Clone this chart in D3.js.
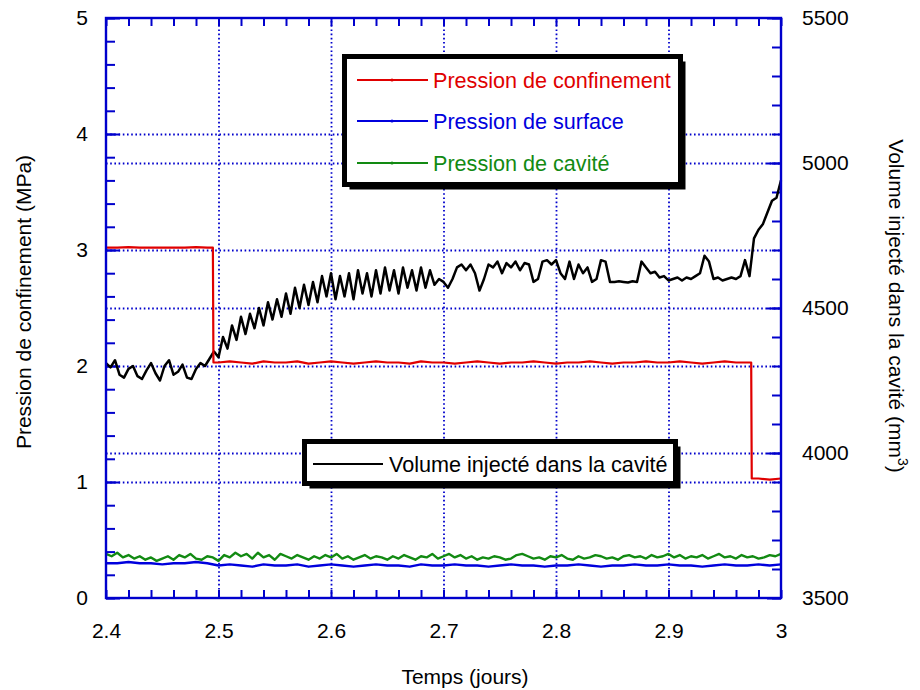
<!DOCTYPE html>
<html><head><meta charset="utf-8">
<script src="https://cdn.jsdelivr.net/npm/d3@7"></script>
<style>body{margin:0;background:#fff} svg{display:block} text{font-family:"Liberation Sans",Arial,Helvetica,sans-serif}</style>
</head><body><svg id="c" width="920" height="690"></svg>
<script>
// ---------- DATA ----------
const xLabels = [2.4, 2.5, 2.6, 2.7, 2.8, 2.9, 3.0];
const pLabels = [0, 1, 2, 3, 4, 5];
const vLabels = [3500, 4000, 4500, 5000, 5500];

// Volume injecté (mm3), sampled every 0.004 day from 2.4
const volStart = 2.4, volStep = 0.004;
const volume = [
 4310,4295,4320,4270,4260,4290,4300,4265,4255,4285,4310,4275,4250,4300,4320,4270,4280,4305,4260,4255,4290,4310,4300,4325,
 4350,
 4330,4400,4360,4440,4390,4470,4410,4480,4430,4500,
 4440,4520,4460,4530,4470,4550,4480,4570,4500,4580,
 4510,4590,4520,4610,4540,4620,4530,4610,4540,4620,
 4530,4630,4550,4620,4540,4630,4550,4640,4560,4630,
 4550,4640,4570,4630,4560,4640,4570,4630,4580,4600,
 4590,4570,4600,4640,4650,4630,4650,4620,4560,4600,
 4650,4640,4660,4620,4655,4640,4660,4630,4655,4650,
 4590,4600,4660,4665,4650,4665,4620,4600,4660,4600,
 4650,4620,4640,4590,4600,4665,4660,4590,4590,4592,
 4590,4588,4592,4590,4660,4640,4620,4625,4605,4610,
 4595,4600,4605,4595,4605,4600,4610,4620,4680,4660,
 4600,4605,4595,4600,4605,4600,4610,4665,4610,4740,
 4770,4790,4830,4870,4880,4940
];

// Pression de confinement (MPa)
const confTimes = [2.40,2.41,2.42,2.43,2.44,2.45,2.46,2.47,2.48,2.49,2.495,2.4955,
 2.50,2.51,2.52,2.53,2.54,2.55,2.56,2.57,2.58,2.59,
 2.60,2.61,2.62,2.63,2.64,2.65,2.66,2.67,2.68,2.69,
 2.70,2.71,2.72,2.73,2.74,2.75,2.76,2.77,2.78,2.79,
 2.80,2.81,2.82,2.83,2.84,2.85,2.86,2.87,2.88,2.89,
 2.90,2.91,2.92,2.93,2.94,2.95,2.96,2.97,2.9735,2.974,2.98,2.99,3.00];
const confValues = [3.02,3.02,3.025,3.02,3.02,3.02,3.02,3.02,3.025,3.02,3.02,2.03,
 2.03,2.04,2.03,2.02,2.04,2.03,2.03,2.04,2.02,2.03,
 2.04,2.03,2.02,2.03,2.04,2.03,2.03,2.02,2.04,2.03,
 2.03,2.02,2.03,2.04,2.03,2.02,2.03,2.03,2.04,2.03,
 2.02,2.03,2.03,2.04,2.03,2.02,2.03,2.03,2.04,2.03,
 2.03,2.04,2.03,2.02,2.03,2.04,2.03,2.03,2.03,1.03,1.03,1.02,1.03];

// Pression de surface (MPa), every 0.01 day from 2.4
const surfStart = 2.4, surfStep = 0.01;
const surface = [
 0.30,0.30,0.31,0.30,0.30,0.29,0.30,0.30,0.31,0.30,
 0.28,0.29,0.28,0.27,0.29,0.28,0.28,0.29,0.27,0.28,
 0.29,0.28,0.27,0.28,0.29,0.28,0.28,0.27,0.29,0.28,
 0.28,0.29,0.28,0.28,0.27,0.28,0.29,0.28,0.28,0.27,
 0.28,0.28,0.29,0.28,0.27,0.28,0.28,0.29,0.28,0.28,
 0.29,0.28,0.28,0.27,0.28,0.29,0.28,0.28,0.29,0.28,
 0.29
];

// Pression de cavité (MPa), every 0.005 day from 2.4
const cavStart = 2.4, cavStep = 0.005;
const cavity = [
 0.38,0.36,0.39,0.35,0.37,0.34,0.36,0.33,0.35,0.32,0.34,0.36,0.33,0.37,0.35,0.38,0.34,0.33,0.36,0.35,
 0.32,0.37,0.35,0.39,0.36,0.38,0.34,0.39,0.35,0.37,0.33,0.38,0.36,0.34,0.37,0.35,0.33,0.36,0.34,0.37,
 0.35,0.38,0.34,0.36,0.33,0.35,0.37,0.34,0.36,0.35,0.33,0.36,0.34,0.37,0.35,0.33,0.36,0.35,0.38,0.34,
 0.36,0.38,0.35,0.37,0.34,0.36,0.33,0.35,0.34,0.36,0.35,0.33,0.34,0.37,0.38,0.36,0.34,0.35,0.33,0.36,
 0.35,0.37,0.34,0.33,0.36,0.34,0.35,0.37,0.36,0.34,0.35,0.33,0.36,0.37,0.35,0.36,0.34,0.37,0.35,0.36,
 0.38,0.35,0.37,0.34,0.36,0.35,0.37,0.34,0.36,0.38,0.35,0.36,0.34,0.37,0.35,0.36,0.34,0.35,0.37,0.36,0.38
];

const legendTop = ["Pression de confinement", "Pression de surface", "Pression de cavité"];
const legendTopColors = ["#e00000", "#0000dd", "#128a12"];
const legendBottom = "Volume injecté dans la cavité";

// ---------- CHART ----------
const svg = d3.select('#c');
const L = 106, R = 781, T = 18, B = 598;
const AX = '#0000cc';
const FS = 21;
const x = d3.scaleLinear().domain([2.4, 3.0]).range([L, R]);
const yP = d3.scaleLinear().domain([0, 5]).range([B, T]);
const yV = d3.scaleLinear().domain([3500, 5500]).range([B, T]);

function styleAxis(g) {
  g.select('.domain').remove();
  g.selectAll('line').attr('stroke', AX).attr('stroke-width', 2);
  g.selectAll('text').attr('font-size', FS).attr('fill', '#000')
    .attr('font-family', '"Liberation Sans",Arial,sans-serif');
}
function dotted(g) {
  g.select('.domain').remove();
  g.selectAll('line').attr('stroke', AX).attr('stroke-width', 1.8).attr('stroke-dasharray', '1.6,2.6');
}

// grid
svg.append('g').attr('transform', `translate(0,${B})`)
  .call(d3.axisBottom(x).tickValues([2.5, 2.6, 2.7, 2.8, 2.9]).tickSize(-(B - T)).tickFormat('')).call(dotted);
svg.append('g').attr('transform', `translate(${L},0)`)
  .call(d3.axisLeft(yP).tickValues([1, 2, 3, 4]).tickSize(-(R - L)).tickFormat('')).call(dotted);
svg.append('g').attr('transform', `translate(${L},0)`)
  .call(d3.axisLeft(yV).tickValues([4000, 4500, 5000]).tickSize(-(R - L)).tickFormat('')).call(dotted);

// ticks
const xMinor = d3.range(0, 31).map(i => 2.4 + i * 0.02);
svg.append('g').attr('transform', `translate(0,${B})`)
  .call(d3.axisBottom(x).tickValues(xMinor).tickSizeInner(-8).tickSizeOuter(0).tickFormat('')).call(styleAxis);
svg.append('g').attr('transform', `translate(0,${T})`)
  .call(d3.axisTop(x).tickValues(xMinor).tickSizeInner(-8).tickSizeOuter(0).tickFormat('')).call(styleAxis);
svg.append('g').attr('transform', `translate(0,${B})`)
  .call(d3.axisBottom(x).tickValues(xLabels).tickSize(0).tickPadding(25).tickFormat(d3.format('~g'))).call(styleAxis);

const pMinor = d3.range(0, 26).map(i => i * 0.2);
svg.append('g').attr('transform', `translate(${L},0)`)
  .call(d3.axisLeft(yP).tickValues(pMinor).tickSizeInner(-9).tickSizeOuter(0).tickFormat('')).call(styleAxis);
svg.append('g').attr('transform', `translate(${L},0)`)
  .call(d3.axisLeft(yP).tickValues(pLabels).tickSizeInner(-14).tickSizeOuter(0).tickPadding(18)
    .tickFormat(d3.format('d'))).call(styleAxis);

const vMinor = d3.range(0, 21).map(i => 3500 + i * 100);
svg.append('g').attr('transform', `translate(${R},0)`)
  .call(d3.axisRight(yV).tickValues(vMinor).tickSizeInner(-9).tickSizeOuter(0).tickFormat('')).call(styleAxis);
svg.append('g').attr('transform', `translate(${R},0)`)
  .call(d3.axisRight(yV).tickValues(vLabels).tickSizeInner(-14).tickSizeOuter(0).tickPadding(21)
    .tickFormat(d3.format('d'))).call(styleAxis);

// data lines
const lineP = d3.line().x(d => x(d[0])).y(d => yP(d[1]));
const lineV = d3.line().x(d => x(d[0])).y(d => yV(d[1]));
const cavData = cavity.map((v, i) => [cavStart + i * cavStep, v]);
const surfData = surface.map((v, i) => [surfStart + i * surfStep, v]);
const confData = confValues.map((v, i) => [confTimes[i], v]);
const volData = volume.map((v, i) => [volStart + i * volStep, v]);

svg.append('path').datum(cavData).attr('d', lineP).attr('fill', 'none')
  .attr('stroke', '#128a12').attr('stroke-width', 2.4).attr('stroke-linejoin', 'round');
svg.append('path').datum(surfData).attr('d', lineP).attr('fill', 'none')
  .attr('stroke', '#0000dd').attr('stroke-width', 2.4).attr('stroke-linejoin', 'round');
svg.append('path').datum(volData).attr('d', lineV).attr('fill', 'none')
  .attr('stroke', '#000').attr('stroke-width', 2.5).attr('stroke-linejoin', 'round');
svg.append('path').datum(confData).attr('d', lineP).attr('fill', 'none')
  .attr('stroke', '#e00000').attr('stroke-width', 2.2).attr('stroke-linejoin', 'round');

// frame
svg.append('rect').attr('x', L).attr('y', T).attr('width', R - L).attr('height', B - T)
  .attr('fill', 'none').attr('stroke', AX).attr('stroke-width', 2.4);

// axis titles
svg.append('text').attr('x', 465).attr('y', 684).attr('text-anchor', 'middle')
  .attr('font-size', FS).text('Temps (jours)');
svg.append('text').attr('transform', 'translate(31,302) rotate(-90)').attr('text-anchor', 'middle')
  .attr('font-size', FS).text('Pression de confinement (MPa)');
const rt = svg.append('text').attr('transform', 'translate(889,306) rotate(90)').attr('text-anchor', 'middle')
  .attr('font-size', FS);
rt.append('tspan').text('Volume injecté dans la cavité (mm');
rt.append('tspan').attr('font-size', 14).attr('dy', -9).text('3');
rt.append('tspan').attr('dy', 9).text(')');

// legends
function box(x0, y0, w, h) {
  svg.append('rect').attr('x', x0 + 5).attr('y', y0 + 5).attr('width', w).attr('height', h).attr('fill', '#000');
  svg.append('rect').attr('x', x0).attr('y', y0).attr('width', w).attr('height', h)
    .attr('fill', '#fff').attr('stroke', '#000').attr('stroke-width', 5);
}
box(344.5, 56.5, 336, 128);
const rowsY = [80, 121, 163];
legendTop.forEach((t, i) => {
  svg.append('line').attr('x1', 357).attr('x2', 428).attr('y1', rowsY[i]).attr('y2', rowsY[i])
    .attr('stroke', legendTopColors[i]).attr('stroke-width', 2);
  svg.append('circle').attr('cx', 392).attr('cy', rowsY[i]).attr('r', 1.6).attr('fill', legendTopColors[i]);
  svg.append('text').attr('x', 433).attr('y', rowsY[i]).attr('dy', '0.35em')
    .attr('font-size', 21.6).attr('fill', legendTopColors[i]).text(t);
});
box(304.5, 441.5, 371, 42);
svg.append('line').attr('x1', 313).attr('x2', 383).attr('y1', 464).attr('y2', 464)
  .attr('stroke', '#000').attr('stroke-width', 2);
svg.append('text').attr('x', 389).attr('y', 464).attr('dy', '0.35em')
  .attr('font-size', 21.6).attr('fill', '#000').text(legendBottom);
</script></body></html>
